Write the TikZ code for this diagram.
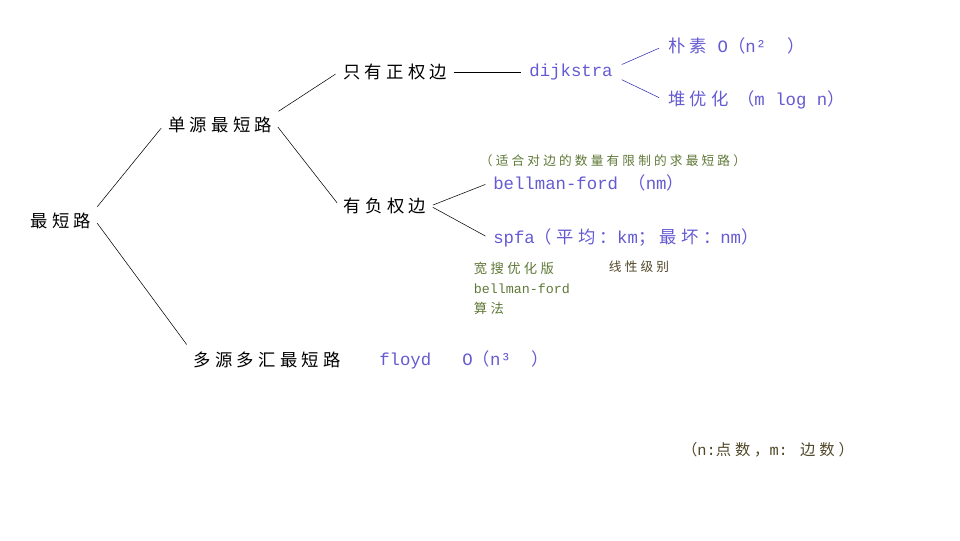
\documentclass[tikz,border=0pt]{standalone}
\usepackage{fontspec}
\setmainfont{Liberation Mono}
\newfontfamily\zh{Noto Sans CJK SC}[LetterSpace=25]
\newfontfamily\en{Liberation Mono}

\definecolor{algoblue}{RGB}{100,90,210}
\definecolor{lineblue}{RGB}{45,45,175}
\definecolor{notegreen}{RGB}{95,120,55}
\definecolor{darknote}{RGB}{80,70,40}

\begin{document}
\begin{tikzpicture}[
  x=0.75pt, y=-0.75pt,
  topic/.style={font=\fontsize{13}{15}\selectfont\zh, inner sep=3pt},
  algo/.style={font=\fontsize{13}{15}\selectfont\en, text=algoblue, inner sep=3pt},
  note/.style={font=\fontsize{9.5}{15}\selectfont\en, text=notegreen, inner sep=2pt},
  tree edge/.style={black, shorten <=2pt, shorten >=3pt},
  algo edge/.style={lineblue, shorten <=4pt, shorten >=4pt}
]
  \useasboundingbox (0,0) rectangle (960,540);

  % Left side of the tree
  \node[topic] (root) at (61,221) {最短路};
  \node[topic] (single) at (220,125) {单源最短路};
  \node[topic] (multi) at (267,360) {多源多汇最短路};

  % Single source branches
  \node[topic] (pos) at (395,72) {只有正权边};
  \node[topic] (neg) at (385,206) {有负权边};

  % Algorithms
  \node[algo] (dij) at (571,72) {dijkstra};
  \node[algo, anchor=west] (naive) at (664,46) {\zh 朴素\en{} O\zh（\en n²\ \ \zh）};
  \node[algo, anchor=west] (heap) at (664,100) {\zh 堆优化 （\en m log n\zh）};
  \node[algo, anchor=west] (bf) at (489,183) {bellman-ford \zh（\en nm\zh）};
  \node[algo, anchor=west] (spfa) at (489,238) {spfa\zh（平均：\en km\zh；最坏：\en nm\zh）};
  \node[algo, anchor=west] (floyd) at (375,360) {floyd\ \ \ O\zh（\en n³\ \ \zh）};

  % Notes
  \node[note, anchor=west] (bfnote) at (477,161) {\zh（适合对边的数量有限制的求最短路）};
  \node[note, anchor=north west, align=left, font=\fontsize{10}{15}\selectfont\en]
    (bfs) at (471,259) {\zh 宽搜优化版\\bellman-ford\\\zh 算法};
  \node[note, text=darknote] (linear) at (639,267) {\zh 线性级别};
  \node[note, text=darknote, font=\fontsize{11.5}{15}\selectfont\en] (legend) at (768,450)
    {\zh（\en n:\zh 点数，\en m: \zh 边数）};

  % Black edges
  \draw[tree edge] (root.north east) -- (single.west);
  \draw[tree edge] (root.east) -- (multi.north west);
  \draw[tree edge] (single.north east) -- (pos.west);
  \draw[tree edge] (single.east) -- (neg.west);
  \draw[tree edge] (pos.east) -- (dij.west);
  \draw[tree edge] (neg.east) -- (bf.west);
  \draw[tree edge] (neg.east) -- (spfa.west);

  % Blue edges
  \draw[algo edge] ([yshift=4pt]dij.east) -- (naive.west);
  \draw[algo edge] ([yshift=-4pt]dij.east) -- (heap.west);

\end{tikzpicture}
\end{document}
